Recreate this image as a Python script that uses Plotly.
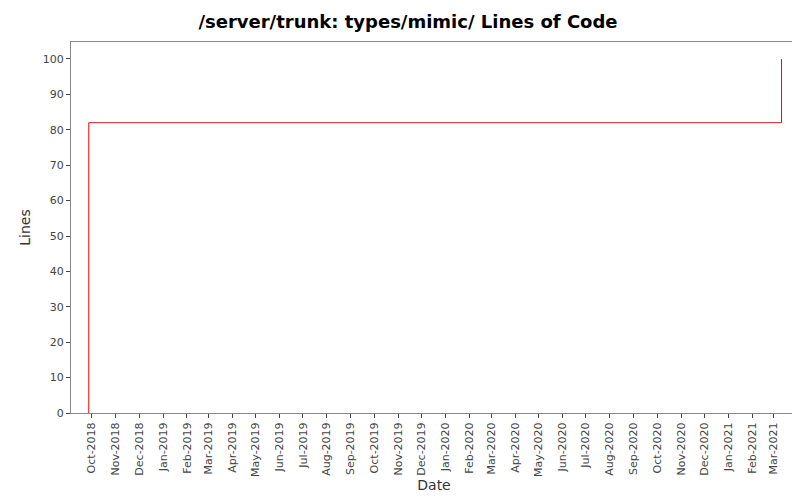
import plotly.graph_objects as go

dates = ["2018-09-27", "2018-09-27", "2021-03-11", "2021-03-11"]
lines = [0, 82, 82, 100]
tick_vals = ["2018-%02d-01" % m for m in (10, 11, 12)] + \
            ["2019-%02d-01" % m for m in range(1, 13)] + \
            ["2020-%02d-01" % m for m in range(1, 13)] + \
            ["2021-%02d-01" % m for m in (1, 2, 3)]

fig = go.Figure(go.Scatter(x=dates, y=lines, mode="lines",
                           line=dict(color="#ff0000", width=1)))
fig.update_layout(
    width=800, height=500,
    margin=dict(l=63, r=11, t=34, b=95, autoexpand=False),
    paper_bgcolor="white", plot_bgcolor="white",
    font=dict(family="DejaVu Sans", size=11, color="#444"),
    title=dict(text="<b>/server/trunk: types/mimic/ Lines of Code</b>",
               x=0.5, y=0.972, xanchor="center", yanchor="middle",
               font=dict(size=18, color="black")),
    showlegend=False,
)
fig.update_xaxes(type="date", range=["2018-09-04", "2021-03-31"],
                 tickvals=tick_vals, tickformat="%b-%Y", tickangle=-90,
                 ticks="outside", ticklen=4, showgrid=False, automargin=False,
                 showline=True, linecolor="#888", mirror=True,
                 title=dict(text="Date", standoff=4, font=dict(size=14, color="#333")))
fig.update_yaxes(range=[0, 104.8], dtick=10, ticks="outside", ticklen=4,
                 showgrid=False, showline=True, linecolor="#888", mirror=True,
                 zeroline=False, automargin=False,
                 title=dict(text="Lines", standoff=8, font=dict(size=14, color="#333")))
fig.write_html("out.html")
